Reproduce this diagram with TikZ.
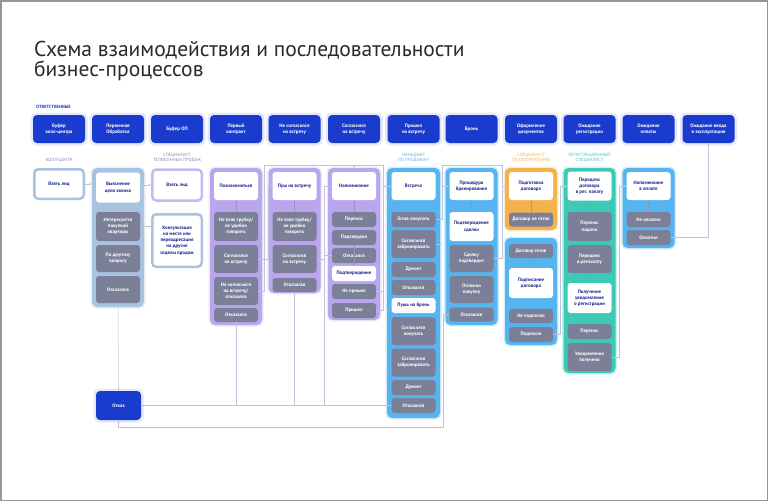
\documentclass[tikz,border=0pt]{standalone}
\usepackage{fontspec}
\setmainfont{PT Sans}
\usetikzlibrary{arrows.meta,calc}

\definecolor{hdrblue}{RGB}{26,60,206}
\definecolor{navy}{RGB}{28,36,140}
\definecolor{grayb}{RGB}{124,127,152}
\definecolor{steelc}{RGB}{168,194,224}
\definecolor{purp}{RGB}{186,166,238}
\definecolor{sky}{RGB}{86,180,240}
\definecolor{orng}{RGB}{244,178,76}
\definecolor{tealc}{RGB}{60,202,182}
\definecolor{lnkc}{RGB}{190,195,218}
\definecolor{framec}{RGB}{150,150,150}
\definecolor{titlec}{RGB}{40,40,48}

\begin{document}
\begin{tikzpicture}[x=1pt,y=-1pt,
    txt/.style={font=\bfseries\fontsize{4.9}{6.2}\selectfont, align=center, inner sep=0.3pt},
    hdr/.style={txt, fill=hdrblue, text=white, rounded corners=4pt,
      minimum width=52pt, minimum height=28pt,
      preaction={draw=hdrblue!12, line width=5pt}},
    cont/.style={fill=#1, rounded corners=5pt, minimum width=52pt, inner sep=0pt,
      preaction={draw=#1!25, line width=3pt}},
    wbox/.style={txt, fill=white, text=navy, rounded corners=3pt, minimum width=44pt},
    gbox/.style={txt, fill=grayb, text=white, rounded corners=3pt, minimum width=44pt},
    ht/.style={minimum height=#1pt},
    role/.style={font=\fontsize{4.5}{5.2}\selectfont, align=center, inner sep=0pt},
    lnk/.style={draw=lnkc, line width=0.5pt, -{Stealth[length=2.4pt,width=2pt]}},
    ln/.style={draw=lnkc, line width=0.5pt},
    inr/.style={draw=grayb!80, line width=0.5pt, -{Stealth[length=2.2pt,width=1.8pt]}}]

\useasboundingbox (0,0) rectangle (768,501);
\draw[framec, line width=1.5pt] (0.75,0.75) rectangle (767.25,500.25);

% title
\node[anchor=north west, align=left, inner sep=0pt, text=titlec, font=\fontsize{21.5}{19.5}\selectfont]
  (title) at (34,41) {Схема взаимодействия и последовательности\\бизнес-процессов};

\node[role, anchor=west, text=hdrblue, font=\bfseries\fontsize{4.5}{5}\selectfont] (resp) at (36,107) {ОТВЕТСТВЕННЫЕ};

% header row
\node[hdr] (h1) at (59,129) {Буфер\\колл-центра};
\node[hdr] (h2) at (118,129) {Первичная\\Обработка};
\node[hdr] (h3) at (177,129) {Буфер ОП};
\node[hdr] (h4) at (236,129) {Первый\\контракт};
\node[hdr] (h5) at (294.5,129) {Не согласился\\на встречу};
\node[hdr] (h6) at (354,129) {Согласился\\на встречу};
\node[hdr] (h7) at (413.5,129) {Пришел\\на встречу};
\node[hdr] (h8) at (471.5,129) {Бронь};
\node[hdr] (h9) at (531,129) {Оформление\\документов};
\node[hdr] (h10) at (589.5,129) {Ожидание\\регистрации};
\node[hdr] (h11) at (648.5,129) {Ожидание\\оплаты};
\node[hdr] (h12) at (708.5,129) {Ожидание ввода\\в эксплуатацию};

% roles
\node[role, text=grayb] (r1) at (59,160) {КОЛЛ-ЦЕНТР};
\node[role, text=grayb!80!purp] (r3) at (177,157.5) {СПЕЦИАЛИСТ\\ТЕЛЕФОННЫХ ПРОДАЖ};
\node[role, text=sky] (r7) at (413.5,157.5) {МЕНЕДЖЕР\\ПО ПРОДАЖАМ};
\node[role, text=orng] (r9) at (531,157.5) {СПЕЦИАЛИСТ\\ПО ОФОРМЛЕНИЮ};
\node[role, text=tealc] (r10) at (589.5,157.5) {РЕГИСТРАЦИОННЫЙ\\СПЕЦИАЛИСТ};

% call centre
\node[txt, text=navy, fill=white, draw=steelc, line width=2.5pt, rounded corners=4pt,
  minimum width=49.5pt, minimum height=29.5pt] (lead1) at (59,184) {Взять лид};

% primary processing
\node[cont=steelc, ht=139] (c2) at (118,237.5) {};
\node[wbox, ht=30] (goal) at (118,187.5) {Выяснение\\цели звонка};
\node[gbox, ht=29] (buy2) at (118,226.5) {Интересуется\\покупкой\\квартиры};
\node[gbox, ht=27] (other2) at (118,258.5) {По другому\\вопросу};
\node[gbox, ht=27] (no2) at (118,289.5) {Отказался};

% sales buffer
\node[txt, text=navy, fill=white, draw=purp!80, line width=2.5pt, rounded corners=4pt,
  minimum width=49.5pt, minimum height=31pt] (lead3) at (177,185) {Взять лид};
\node[txt, text=navy, fill=white, draw=steelc, line width=2.5pt, rounded corners=4pt,
  minimum width=49.5pt, minimum height=52.5pt] (cons3) at (177,240.5)
  {Консультация\\на месте или\\переадресация\\на другие\\отделы продаж};

% first contact
\node[cont=purp, ht=157] (c4) at (236,246.5) {};
\node[wbox, ht=28] (meet4) at (236,186) {Познакомиться};
\node[gbox, ht=29] (busy4) at (236,226.5) {Не взял трубку/\\не удобно\\говорить};
\node[gbox, ht=28] (yes4) at (236,259) {Согласился\\на встречу};
\node[gbox, ht=28] (nyes4) at (236,291) {Не согласился\\на встречу/\\отказался};
\node[gbox, ht=14] (no4) at (236,315) {Отказался};

% did not agree
\node[cont=purp, ht=125] (c5) at (294.5,230.5) {};
\node[wbox, ht=28] (push5) at (294.5,186) {Пуш на встречу};
\node[gbox, ht=29] (busy5) at (294.5,226.5) {Не взял трубку/\\не удобно\\говорить};
\node[gbox, ht=28] (yes5) at (294.5,259) {Согласился\\на встречу};
\node[gbox, ht=14] (no5) at (294.5,285) {Отказался};

% agreed
\node[cont=purp, ht=152] (c6) at (354,244) {};
\node[wbox, ht=28] (remind6) at (354,186) {Напоминание};
\node[gbox, ht=15] (move6) at (354,219.5) {Перенос};
\node[gbox, ht=15] (conf6) at (354,237.5) {Подтвердил};
\node[gbox, ht=15] (no6) at (354,255.5) {Отказался};
\node[wbox, ht=15] (check6) at (354,273.5) {Подтверждение};
\node[gbox, ht=15] (miss6) at (354,291.5) {Не пришел};
\node[gbox, ht=15] (came6) at (354,310.5) {Пришел};

% meeting
\node[cont=sky, ht=250, minimum width=53pt] (c7) at (413.5,293) {};
\node[wbox, ht=28] (meet7) at (413.5,186) {Встреча};
\node[gbox, ht=15] (ready7) at (413.5,219.5) {Готов покупать};
\node[gbox, ht=28] (book7) at (413.5,244) {Согласился\\забронировать};
\node[gbox, ht=15] (think7) at (413.5,269.5) {Думает};
\node[gbox, ht=15] (no7) at (413.5,287.5) {Отказался};
\node[wbox, ht=15] (push7) at (413.5,305.5) {Пушь на бронь};
\node[gbox, ht=28] (buyb7) at (413.5,331) {Согласился\\покупать};
\node[gbox, ht=28] (bookb7) at (413.5,362.5) {Согласился\\забронировать};
\node[gbox, ht=15] (thinkb7) at (413.5,387.5) {Думает};
\node[gbox, ht=15] (nob7) at (413.5,405.5) {Отказался};

% booking
\node[cont=sky, ht=157] (c8) at (471.5,246.5) {};
\node[wbox, ht=28] (proc8) at (471.5,186) {Процедура\\бронирования};
\node[wbox, ht=29] (deal8) at (471.5,226.5) {Подтверждение\\сделки};
\node[gbox, ht=27] (ok8) at (471.5,258.5) {Сделку\\подтвердит};
\node[gbox, ht=27] (later8) at (471.5,289.5) {Отложил\\покупку};
\node[gbox, ht=14] (no8) at (471.5,314.5) {Отказался};

% documents
\node[cont=orng, ht=62] (c9a) at (531,199) {};
\node[wbox, ht=28] (prep9) at (531,186) {Подготовка\\договора};
\node[gbox, ht=14] (notr9) at (531,219.5) {Договор не готов};
\node[cont=sky, ht=107] (c9b) at (531,291.5) {};
\node[gbox, ht=14] (rdy9) at (531,251) {Договор готов};
\node[wbox, ht=30] (sign9) at (531,283) {Подписание\\договора};
\node[gbox, ht=14] (nsig9) at (531,316) {Не подписан};
\node[gbox, ht=15] (sig9) at (531,334.5) {Подписан};

% registration
\node[cont=tealc, ht=205] (c10) at (589.5,270.5) {};
\node[wbox, ht=29] (send10) at (589.5,186) {Передача\\договора\\в рег. палату};
\node[gbox, ht=29] (move10) at (589.5,226.5) {Перенос\\подачи};
\node[gbox, ht=28] (sent10) at (589.5,259) {Передано\\в регпалату};
\node[wbox, ht=30] (get10) at (589.5,298) {Получение\\уведомления\\о регистрации};
\node[gbox, ht=15] (mv10) at (589.5,331.5) {Перенос};
\node[gbox, ht=28] (got10) at (589.5,357) {Уведомление\\получено};

% payment
\node[cont=sky, ht=80] (c11) at (648.5,208) {};
\node[wbox, ht=28] (rem11) at (648.5,186) {Напоминание\\в оплате};
\node[gbox, ht=15] (npay11) at (648.5,219.5) {Не оплатил};
\node[gbox, ht=15] (pay11) at (648.5,237.5) {Оплатил};

% refusal
\node[hdr, minimum width=45pt, minimum height=29pt] (refuse) at (118.5,405.5) {Отказ};

% connectors
\coordinate (t4) at (264,165);
\coordinate (t6) at (383,165);
\coordinate (j5) at (324,186);
\coordinate (j6) at (324,405.5);
\coordinate (k7) at (383,186);
\coordinate (k8) at (442,186);
\coordinate (t8) at (442,165);
\coordinate (b8) at (443,427);
\coordinate (k9) at (502,186);
\coordinate (t9) at (502,165);
\coordinate (k10) at (560,186);
\coordinate (k11) at (619,186);

\draw[lnk] (lead1.east) -- (lead1.east -| c2.west);
\draw[lnk] (buy2.east) -- (buy2.east -| cons3.west);
\draw[lnk] ($(buy2.east)+(3,0)$) |- (lead3.west);
\draw[lnk] (c2.south) -- (refuse.north);

\draw[ln] (nyes4.east) -| (t4) -- (t6) -- (k7);
\draw[lnk] (c6.north |- t4) -- (c6.north);
\draw[lnk] (yes4.east) -| ($(push5.west)+(-4,0)$) -- (push5.west);
\draw[lnk] (yes5.east) -| (j5) -- (remind6.west);
\draw[ln] (no6.west) -| (j6);
\draw[inr] (busy4.north) -- (meet4.south);
\draw[inr] (busy5.north) -- (push5.south);
\draw[inr] (move6.north) -- (remind6.south);
\draw[inr] (conf6.south) -- (check6.north);

\draw[ln] (no4.south) -- (no4.south |- refuse.east);
\draw[ln] (no5.south) -- (no5.south |- refuse.east);
\draw[lnk] (nob7.west) -- (refuse.east);

\draw[ln] (miss6.east) -| (k7);
\draw[lnk] (came6.east) -| (k7) -- (meet7.west);
\draw[lnk] (ready7.east) -| (k8) -- (proc8.west);
\draw[ln] (book7.east) -- (book7.east -| k8);
\draw[ln] (k8) -- (t8) -- (t9) -- (k9);
\draw[inr] (proc8.south) -- (deal8.north);
\draw[lnk] (no8.west) -| (b8) -| (refuse.south);
\draw[lnk] (ok8.east) -| (k9) -- (prep9.west);

\draw[inr] (notr9.north) -- (prep9.south);
\draw[inr] (rdy9.south) -- (sign9.north);
\draw[inr] (nsig9.north) -- (sign9.south);
\draw[lnk] (sig9.east) -| (k10) -- (send10.west);

\draw[inr] (move10.north) -- (send10.south);
\draw[inr] (sent10.south) -- (get10.north);
\draw[inr] (mv10.north) -- (get10.south);
\draw[lnk] (got10.east) -| (k11) -- (rem11.west);

\draw[inr] (npay11.north) -- (rem11.south);
\draw[lnk] (pay11.east) -| (h12.south);
\end{tikzpicture}
\end{document}
